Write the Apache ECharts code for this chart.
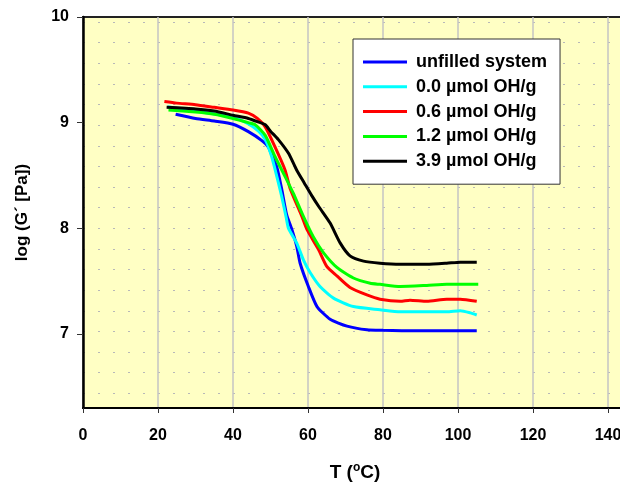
<!DOCTYPE html>
<html>
<head>
<meta charset="utf-8">
<script src="https://cdn.jsdelivr.net/npm/echarts@6/dist/echarts.min.js"></script>
<style>
  html, body { margin: 0; padding: 0; background: #fff; }
  #chart { width: 620px; height: 486px; }
</style>
</head>
<body>
<div id="chart"></div>
<script>
// ===== Data (T in °C, log G' in Pa) =====

const seriesNames = ['unfilled system', '0.0 µmol OH/g', '0.6 µmol OH/g', '1.2 µmol OH/g', '3.9 µmol OH/g'];

const unfilled = [
  [24.7, 9.08], [30, 9.04], [35, 9.015], [40, 8.985], [44.1, 8.915], [47.7, 8.83],
  [49.4, 8.77], [50.5, 8.68], [51.7, 8.58], [53.0, 8.37], [54.3, 8.13], [55.7, 7.99],
  [57.0, 7.83], [57.9, 7.67], [60.1, 7.45], [62.4, 7.26], [65.9, 7.14], [70.4, 7.075],
  [75.7, 7.04], [80, 7.035], [90, 7.03], [100, 7.03], [105, 7.03]
];

const oh00 = [
  [22.5, 9.15], [30, 9.11], [40, 9.05], [44, 8.99], [46.8, 8.92], [48.6, 8.84],
  [50.3, 8.68], [51.7, 8.49], [53.0, 8.30], [54.2, 8.10], [54.8, 8.00], [57.0, 7.86],
  [58.8, 7.70], [60.6, 7.58], [63.2, 7.45], [66.8, 7.34], [72.1, 7.26], [79.2, 7.23],
  [84.6, 7.21], [91.7, 7.21], [97, 7.21], [100.6, 7.22], [103.3, 7.20], [105, 7.18]
];

const oh06 = [
  [21.7, 9.20], [25, 9.185], [30, 9.17], [35, 9.145], [40, 9.12], [44.1, 9.09],
  [46.5, 9.04], [48.6, 8.96], [51.2, 8.77], [53.9, 8.55], [55.2, 8.38], [58.4, 8.11],
  [59.7, 7.99], [62.8, 7.80], [65.0, 7.64], [67.7, 7.55], [71.2, 7.44], [75.7, 7.37],
  [79.2, 7.33], [84.6, 7.31], [87.2, 7.32], [91.7, 7.31], [97, 7.33], [100.6, 7.33], [105, 7.31]
];

const oh12 = [
  [22.8, 9.12], [30, 9.10], [35, 9.08], [40, 9.04], [44.1, 9.00], [45.9, 8.98],
  [48.6, 8.88], [51.2, 8.68], [53.9, 8.49], [56.1, 8.33], [58.8, 8.11], [61.4, 7.92],
  [64.1, 7.77], [67.7, 7.63], [72.1, 7.53], [76.6, 7.48], [79.2, 7.47], [84.6, 7.45],
  [91.7, 7.46], [97, 7.47], [100.6, 7.47], [105.4, 7.47]
];

const oh39 = [
  [22.3, 9.145], [30, 9.13], [35, 9.11], [40, 9.07], [44.1, 9.04], [46.5, 9.01],
  [48.6, 8.98], [50, 8.92], [52.1, 8.84], [54.8, 8.71], [57, 8.55], [59, 8.43],
  [61, 8.31], [63, 8.20], [65.9, 8.05], [68.6, 7.86], [71.2, 7.74], [74.8, 7.69],
  [79.2, 7.67], [84.6, 7.66], [91.7, 7.66], [97, 7.67], [100.6, 7.68], [105, 7.68]
];

const yTickValues = [7, 8, 9, 10];

// ===== Chart =====

const COLORS = ['#0000ff', '#00ffff', '#ff0000', '#00ff00', '#000000'];
const FONT = '"Liberation Sans", Arial, sans-serif';

function initChart() {
  const chartDom = document.getElementById('chart');
  const myChart = echarts.init(chartDom, null, { renderer: 'canvas' });
  const curves = [unfilled, oh00, oh06, oh12, oh39];

  const option = {
    animation: false,
    textStyle: { fontFamily: FONT },
    grid: [
      // plot area, runs past the right edge of the picture
      {
        left: 83, top: 17, width: 600, height: 391, outerBoundsMode: 'none',
        show: true, backgroundColor: '#ffffc4',
        borderColor: '#222', borderWidth: 2
      },
      // dotted background rows
      { left: 83, top: 22, width: 600, height: 371.3, outerBoundsMode: 'none', show: false }
    ],
    xAxis: [
      {
        type: 'value', gridIndex: 0, min: 0, max: 160, interval: 20,
        axisLine: { onZero: false, lineStyle: { color: '#000', width: 2 } },
        axisTick: { length: 5, lineStyle: { color: '#333', width: 1 } },
        axisLabel: { margin: 20, color: '#000', fontSize: 16, fontWeight: 'bold', fontFamily: FONT },
        splitLine: { show: true, lineStyle: { color: '#c4c4c4', width: 1.5 } }
      },
      { type: 'value', gridIndex: 1, min: 0, max: 160, show: false }
    ],
    yAxis: [
      {
        type: 'value', gridIndex: 0, min: 6.3, max: 10,
        name: 'log (G\u00b4 [Pa])', nameLocation: 'middle', nameGap: 52, nameRotate: 90,
        nameTextStyle: { color: '#000', fontSize: 17, fontWeight: 'bold', fontFamily: FONT },
        axisLine: { onZero: false, lineStyle: { color: '#000', width: 2.5 } },
        axisTick: { customValues: yTickValues, length: 6, lineStyle: { color: '#333', width: 1 } },
        axisLabel: {
          customValues: yTickValues, margin: 14, color: '#000',
          fontSize: 16, fontWeight: 'bold', fontFamily: FONT
        },
        splitLine: { show: false }
      },
      {
        type: 'value', gridIndex: 1, min: 0, max: 18, interval: 1,
        axisLine: { show: false }, axisTick: { show: false }, axisLabel: { show: false },
        splitLine: { show: true, lineStyle: { color: '#b8b8b8', width: 1, type: [2, 13] } }
      }
    ],
    legend: {
      orient: 'vertical', left: 353, top: 39,
      backgroundColor: '#fff', borderColor: '#333', borderWidth: 1,
      padding: [14, 13, 14, 10],
      icon: 'rect', itemWidth: 44, itemHeight: 3, itemGap: 6.8,
      textStyle: { color: '#000', fontSize: 18, fontWeight: 'bold', fontFamily: FONT, padding: [0, 0, 0, 4] },
      data: seriesNames
    },
    graphic: [{
      type: 'text', x: 355, y: 473,
      style: {
        text: '{n|T (}{s|o}{n|C)}',
        align: 'center', verticalAlign: 'middle',
        rich: {
          n: { fontSize: 19, fontWeight: 'bold', fontFamily: FONT, fill: '#000', lineHeight: 22 },
          s: { fontSize: 12, fontWeight: 'bold', fontFamily: FONT, fill: '#000', lineHeight: 22, verticalAlign: 'top', padding: [0, 0, 9, 0] }
        }
      }
    }],
    series: curves.map((data, i) => ({
      name: seriesNames[i],
      type: 'line',
      xAxisIndex: 0, yAxisIndex: 0,
      data: data,
      smooth: 0.2,
      symbol: 'none',
      lineStyle: { color: COLORS[i], width: 3 },
      itemStyle: { color: COLORS[i] },
      z: 2 + i
    }))
  };

  myChart.setOption(option);
}

initChart();
</script>
</body>
</html>
